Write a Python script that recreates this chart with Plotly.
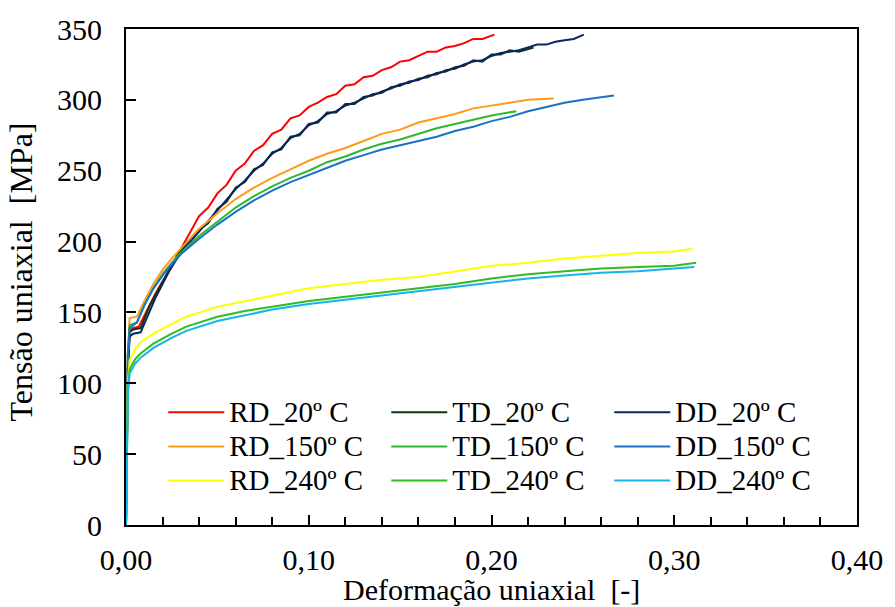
import plotly.graph_objects as go

# ---------------- data ----------------
rd20_x = [0, 0.0005, 0.001, 0.002, 0.004, 0.007, 0.010, 0.013, 0.016, 0.020, 0.024, 0.028, 0.032, 0.036,
          0.040, 0.045, 0.050, 0.055, 0.060, 0.065, 0.070, 0.075, 0.080, 0.085, 0.090, 0.095, 0.100, 0.105,
          0.110, 0.115, 0.120, 0.125, 0.130, 0.135, 0.140, 0.145, 0.150, 0.155, 0.160, 0.165, 0.170, 0.175,
          0.180, 0.185, 0.190, 0.195, 0.2016]
rd20_y = [0, 60, 110, 137, 139, 140, 148, 156, 163, 172, 180, 190, 199, 209,
          218, 224, 234, 240, 250, 255, 264, 268, 276, 279, 287, 289, 295, 298,
          302, 304, 310, 311, 316, 317, 321, 323, 327, 328, 331, 334, 334, 337,
          338, 340, 343, 343, 346]

td20_x = [0, 0.0005, 0.001, 0.002, 0.004, 0.008, 0.010, 0.013, 0.016, 0.020, 0.024, 0.028, 0.032, 0.036,
          0.040, 0.045, 0.050, 0.055, 0.060, 0.065, 0.070, 0.075, 0.080, 0.085, 0.090, 0.095, 0.100, 0.105,
          0.110, 0.115, 0.120, 0.125, 0.130, 0.135, 0.140, 0.145, 0.150, 0.155, 0.160, 0.165, 0.170, 0.175,
          0.180, 0.185, 0.190, 0.195, 0.200, 0.205, 0.210, 0.215, 0.223]
td20_y = [0, 60, 112, 136, 138, 139, 145, 155, 162, 172, 181, 190, 197, 203,
          208, 213, 223, 228, 238, 242, 251, 254, 263, 265, 274, 275, 283, 284,
          291, 291, 297, 297, 302, 303, 306, 308, 311, 312, 315, 316, 319, 320,
          323, 324, 328, 327, 332, 332, 335, 334, 337]

dd20_x = [0, 0.0005, 0.001, 0.002, 0.004, 0.008, 0.010, 0.013, 0.016, 0.020, 0.024, 0.028, 0.032, 0.036,
          0.040, 0.045, 0.050, 0.055, 0.060, 0.065, 0.070, 0.075, 0.080, 0.085, 0.090, 0.095, 0.100, 0.105,
          0.110, 0.115, 0.120, 0.125, 0.130, 0.135, 0.140, 0.145, 0.150, 0.155, 0.160, 0.165, 0.170, 0.175,
          0.180, 0.185, 0.190, 0.195, 0.200, 0.205, 0.210, 0.215, 0.220, 0.225, 0.230, 0.235, 0.240, 0.245, 0.2505]
dd20_y = [0, 60, 110, 133, 135, 136, 142, 152, 160, 170, 180, 188, 196, 201,
          207, 214, 222, 229, 237, 243, 250, 255, 262, 266, 273, 276, 282, 285,
          290, 292, 296, 298, 301, 304, 305, 309, 310, 313, 314, 317, 318, 321,
          322, 325, 327, 328, 331, 333, 334, 335, 337, 339, 339, 341, 342, 343, 346]

rd150_x = [0, 0.0005, 0.001, 0.002, 0.006, 0.010, 0.015, 0.020, 0.025, 0.030, 0.040, 0.050, 0.060, 0.070,
           0.080, 0.090, 0.100, 0.110, 0.120, 0.130, 0.140, 0.150, 0.160, 0.170, 0.180, 0.190, 0.200,
           0.210, 0.220, 0.234]
rd150_y = [0, 70, 120, 146, 147, 158, 170, 180, 188, 195, 209, 220, 230, 238,
           245, 251, 257, 262, 266, 271, 276, 279, 284, 287, 290, 294, 296,
           298, 300, 301]

td150_x = [0, 0.0005, 0.001, 0.002, 0.006, 0.010, 0.015, 0.020, 0.025, 0.030, 0.040, 0.050, 0.060, 0.070,
           0.080, 0.090, 0.100, 0.110, 0.120, 0.130, 0.140, 0.150, 0.160, 0.170, 0.180, 0.190, 0.200, 0.2136]
td150_y = [0, 70, 120, 141, 143, 155, 167, 177, 185, 192, 204, 214, 224, 232,
           239, 245, 250, 256, 260, 265, 269, 272, 276, 280, 283, 286, 289, 292]

dd150_x = [0, 0.0005, 0.001, 0.002, 0.006, 0.010, 0.015, 0.020, 0.025, 0.030, 0.040, 0.050, 0.060, 0.070,
           0.080, 0.090, 0.100, 0.110, 0.120, 0.130, 0.140, 0.150, 0.160, 0.170, 0.180, 0.190, 0.200,
           0.210, 0.220, 0.230, 0.240, 0.250, 0.267]
dd150_y = [0, 70, 120, 139, 143, 155, 167, 176, 184, 191, 202, 212, 221, 229,
           236, 242, 247, 252, 257, 261, 265, 268, 271, 274, 278, 281, 285,
           288, 292, 295, 298, 300, 303]

rd240_x = [0, 0.0005, 0.001, 0.002, 0.005, 0.008, 0.015, 0.025, 0.033, 0.050, 0.065, 0.080, 0.100,
           0.120, 0.140, 0.160, 0.180, 0.200, 0.220, 0.240, 0.260, 0.280, 0.300, 0.310]
rd240_y = [0, 60, 100, 116, 124, 129, 135, 142, 147, 154, 158, 162, 167,
           170, 173, 175, 179, 183, 185, 188, 190, 192, 193, 195]

td240_x = [0, 0.0005, 0.001, 0.002, 0.005, 0.008, 0.015, 0.025, 0.033, 0.050, 0.065, 0.080, 0.100,
           0.120, 0.140, 0.160, 0.180, 0.200, 0.220, 0.240, 0.260, 0.280, 0.300, 0.312]
td240_y = [0, 55, 95, 110, 117, 121, 128, 135, 140, 147, 151, 154, 158,
           161, 164, 167, 170, 174, 177, 179, 181, 182, 183, 185]

dd240_x = [0, 0.0005, 0.001, 0.002, 0.005, 0.008, 0.015, 0.025, 0.033, 0.050, 0.065, 0.080, 0.100,
           0.120, 0.140, 0.160, 0.180, 0.200, 0.220, 0.240, 0.260, 0.280, 0.300, 0.311]
dd240_y = [0, 50, 92, 107, 114, 118, 125, 132, 137, 144, 148, 152, 156,
           159, 162, 165, 168, 171, 174, 176, 178, 179, 181, 182]

series_names = ["RD_20º C", "TD_20º C", "DD_20º C",
                "RD_150º C", "TD_150º C", "DD_150º C",
                "RD_240º C", "TD_240º C", "DD_240º C"]
series_x = [rd20_x, td20_x, dd20_x, rd150_x, td150_x, dd150_x, rd240_x, td240_x, dd240_x]
series_y = [rd20_y, td20_y, dd20_y, rd150_y, td150_y, dd150_y, rd240_y, td240_y, dd240_y]
series_colors = ["#ff0000", "#0b3a0b", "#0a2466",
                 "#ff9a1a", "#2eb82e", "#1a72c4",
                 "#ffff00", "#33bb22", "#14b4ec"]

x_tickvals = [0, 0.1, 0.2, 0.3, 0.4]
y_tickvals = [0, 50, 100, 150, 200, 250, 300, 350]

FONT = "Liberation Serif"

fig = go.Figure()
for name, xs, ys, col in zip(series_names, series_x, series_y, series_colors):
    fig.add_trace(go.Scatter(
        x=xs, y=ys, mode="lines",
        name='<span style="font-size:29px">' + name + '</span>',
        line=dict(color=col, width=2)))

fig.update_layout(
    width=895, height=607,
    margin=dict(l=126, r=33, t=28, b=82),
    paper_bgcolor="white", plot_bgcolor="white",
    separators=",.",
    font=dict(family=FONT, size=30, color="black"),
    showlegend=True,
    legend=dict(orientation="h", x=0.051, xanchor="left", y=0.272, yanchor="top",
                entrywidth=152, itemwidth=56,
                font=dict(family=FONT, size=24, color="black"),
                bgcolor="rgba(0,0,0,0)", tracegroupgap=0, traceorder="normal"),
    xaxis=dict(range=[0, 0.4], tickvals=x_tickvals, tickformat=".2f",
               showgrid=False, zeroline=False, showline=True, linecolor="black",
               linewidth=1.8, mirror=True, ticks="inside", ticklen=10, tickwidth=1.5,
               tickcolor="black", tickfont=dict(family=FONT, size=30),
               ticklabelstandoff=7,
               minor=dict(dtick=0.02, tick0=0, ticks="inside", ticklen=8, tickwidth=1.5,
                          tickcolor="black", showgrid=False)),
    yaxis=dict(range=[0, 350], tickvals=y_tickvals,
               showgrid=False, zeroline=False, showline=True, linecolor="black",
               linewidth=1.8, mirror=True, ticks="inside", ticklen=10, tickwidth=1.5,
               tickcolor="black", tickfont=dict(family=FONT, size=30), ticklabelstandoff=16),
    annotations=[
        dict(text="Deformação uniaxial\u00a0 [-]", xref="paper", yref="paper",
             x=0.5, y=-0.131, xanchor="center", yanchor="middle", showarrow=False,
             font=dict(family=FONT, size=30, color="black")),
        dict(text="Tensão uniaxial\u00a0 [MPa]", xref="paper", yref="paper",
             x=-0.143, y=0.51, xanchor="center", yanchor="middle", showarrow=False,
             textangle=-90, font=dict(family=FONT, size=32, color="black")),
    ],
)

fig.write_html("out.html")
